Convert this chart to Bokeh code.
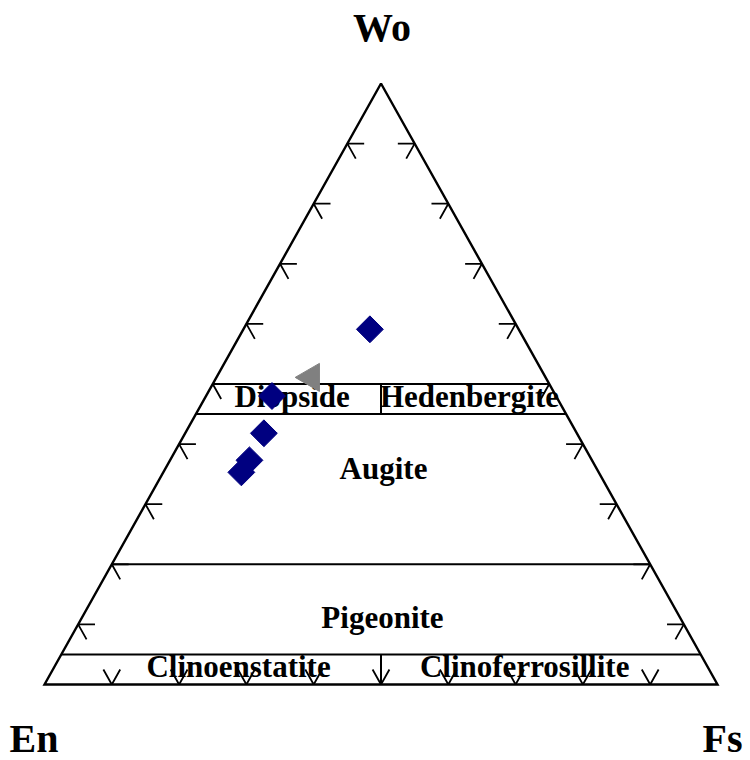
import numpy as np
from bokeh.plotting import figure
from bokeh.models import Range1d, ColumnDataSource
from bokeh.core.properties import value
from bokeh.embed import file_html
from bokeh.resources import INLINE

# ---------------- data (mol %) ----------------
diamond_wo = [59.1, 48.0, 41.8, 37.3, 35.3]
diamond_en = [22.1, 42.2, 46.5, 50.9, 53.1]
diamond_fs = [18.8, 9.8, 11.7, 11.8, 11.6]

triangle_wo = [51.1]
triangle_en = [34.8]
triangle_fs = [14.1]

# classification field boundaries (Wo %)
field_wo_levels = [50, 45, 20, 5]
# En = Fs dividers, spanning these Wo ranges
divider_wo_ranges = [(45, 50), (0, 5)]
tick_values = [10, 20, 30, 40, 50, 60, 70, 80, 90]

apex_labels = ["Wo", "En", "Fs"]
field_labels = ["Diopside", "Hedenbergite", "Augite", "Pigeonite",
                "Clinoenstatite", "Clinoferrosillite"]


def tern(wo, fs):
    wo = np.asarray(wo, dtype=float) / 100.0
    fs = np.asarray(fs, dtype=float) / 100.0
    return fs + wo / 2.0, wo


# ---------------- figure ----------------
p = figure(width=750, height=760, output_backend="svg", toolbar_location=None,
           x_range=Range1d(-44 / 673, 706 / 673),
           y_range=Range1d(-76 / 601, 1 + 83 / 601),
           x_axis_location=None, y_axis_location=None,
           min_border=0, tools="")
p.grid.visible = False
p.outline_line_color = None
p.background_fill_color = "white"
p.border_fill_color = "white"

# triangle outline
ox, oy = tern([100, 0, 0, 100], [0, 0, 100, 0])
p.line(list(ox), list(oy), line_color="black", line_width=2.4, line_join="miter")

# field boundaries
xs, ys = [], []
for w in field_wo_levels:
    x0, y0 = tern(w, 0)
    x1, y1 = tern(w, 100 - w)
    xs.append([float(x0), float(x1)])
    ys.append([float(y0), float(y1)])
for lo, hi in divider_wo_ranges:
    x0, y0 = tern(lo, (100 - lo) / 2)
    x1, y1 = tern(hi, (100 - hi) / 2)
    xs.append([float(x0), float(x1)])
    ys.append([float(y0), float(y1)])
p.multi_line(xs, ys, line_color="black", line_width=2)

# ticks
d = 2.5
txs, tys = [], []
for t in tick_values:
    # left edge (Fs = 0)
    vx, vy = tern(t, 0)
    ax, ay = tern(t, d)            # constant Wo
    bx, by = tern(t - d, d)        # constant En
    txs += [[float(ax), float(vx), float(bx)]]
    tys += [[float(ay), float(vy), float(by)]]
    # right edge (En = 0)
    vx, vy = tern(t, 100 - t)
    ax, ay = tern(t, 100 - t - d)  # constant Wo
    bx, by = tern(t - d, 100 - t)  # constant Fs
    txs += [[float(ax), float(vx), float(bx)]]
    tys += [[float(ay), float(vy), float(by)]]
    # bottom edge (Wo = 0)
    vx, vy = tern(0, t)
    ax, ay = tern(d, t - d)        # constant En
    bx, by = tern(d, t)            # constant Fs
    txs += [[float(ax), float(vx), float(bx)]]
    tys += [[float(ay), float(vy), float(by)]]
p.multi_line(txs, tys, line_color="black", line_width=1.8)

# ---------------- texts ----------------
font = value("Liberation Serif")
field_pos_x = [0.368, 0.6315, 0.5037, 0.5022, 0.2883, 0.7135]
field_pos_y = [0.4790, 0.4790, 0.3594, 0.1120, 0.0304, 0.0304]
p.text(x=field_pos_x, y=field_pos_y, text=field_labels, text_font=font,
       text_font_style="bold", text_font_size="31px", text_align="center",
       text_baseline="alphabetic", text_color="black")

apex_pos_x = [0.5015, -0.0156, 1.0074]
apex_pos_y = [1.094, -0.0898, -0.0898]
p.text(x=apex_pos_x, y=apex_pos_y, text=apex_labels, text_font=font,
       text_font_style="bold", text_font_size="40px", text_align="center",
       text_baseline="alphabetic", text_color="black")

# ---------------- samples ----------------
dx, dy = tern(diamond_wo, diamond_fs)
src_d = ColumnDataSource(dict(x=dx, y=dy, en=diamond_en))
p.scatter("x", "y", source=src_d, marker="square", angle=np.pi / 4, size=19,
          fill_color="#000080", line_color="#000080")

tx, ty = tern(triangle_wo, triangle_fs)
src_t = ColumnDataSource(dict(x=tx, y=ty, en=triangle_en))
p.scatter("x", "y", source=src_t, marker="triangle", angle=np.pi / 2, size=28,
          fill_color="#808080", line_color="#808080")

open("out.html", "w").write(file_html(p, INLINE))
